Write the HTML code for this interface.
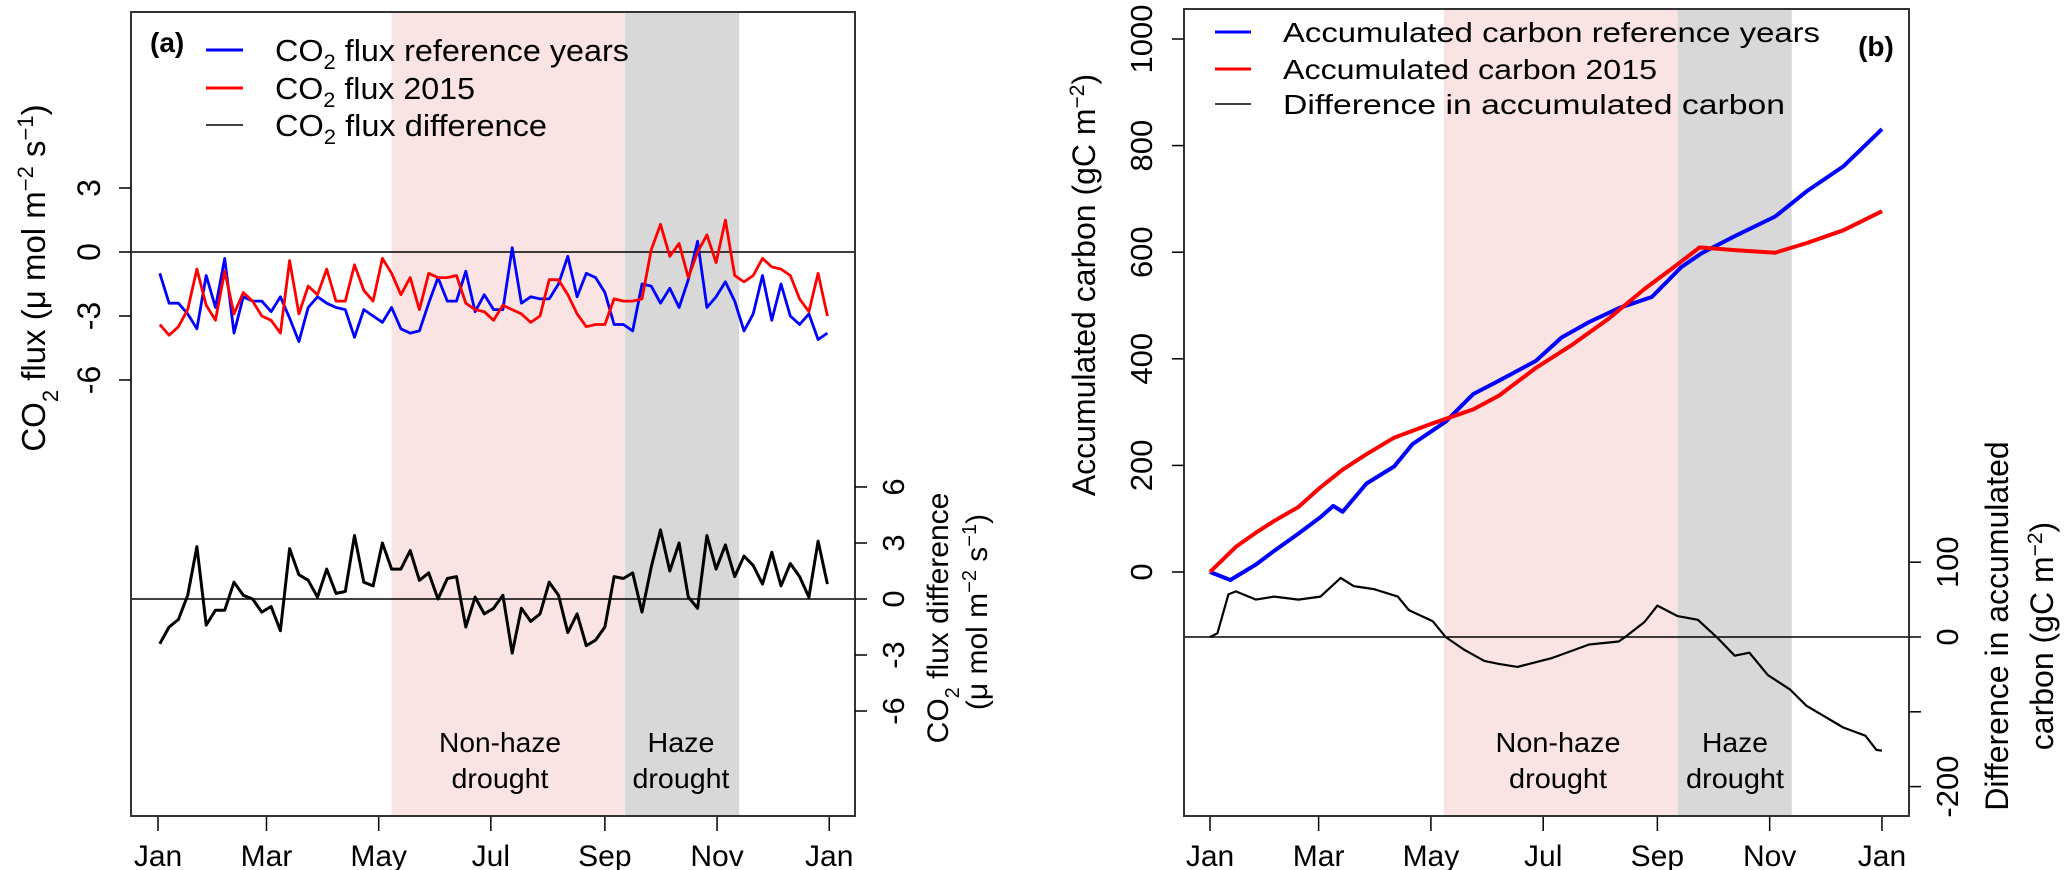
<!DOCTYPE html>
<html><head><meta charset="utf-8"><style>
html,body{margin:0;padding:0;background:#fff;}
svg{display:block;font-family:"Liberation Sans",Arial,sans-serif;}
</style></head><body>
<svg id="fig" width="2067" height="870" viewBox="0 0 2067 870" xmlns="http://www.w3.org/2000/svg"></svg>
<script>
// ---------- DATA ----------
const monthTickDays = [0, 59, 120, 181, 243, 304, 365];
const monthTickLabels = ["Jan","Mar","May","Jul","Sep","Nov","Jan"];
const nonHazePeriod = [127, 254];
const hazePeriod = [254, 316];
// Panel (a): 5-day CO2 flux
const fluxRef = [-1.0,-2.4,-2.4,-2.9,-3.6,-1.1,-2.6,-0.3,-3.8,-2.1,-2.3,-2.3,-2.8,-2.1,-3.1,-4.2,-2.6,-2.1,-2.4,-2.6,-2.7,-4.0,-2.7,-3.0,-3.3,-2.6,-3.6,-3.8,-3.7,-2.4,-1.2,-2.3,-2.3,-0.9,-2.8,-2.0,-2.7,
  -2.7,0.2,-2.4,-2.1,-2.2,-2.2,-1.5,-0.2,-2.1,-1.0,-1.2,-1.9,-3.4,-3.4,-3.7,-1.5,-1.6,-2.4,-1.7,-2.6,-1.3,0.5,-2.6,-2.1,-1.4,-2.3,-3.7,-2.9,-1.1,-3.2,-1.5,-3.0,-3.4,-2.9,-4.1,-3.8];
const flux2015 = [-3.4,-3.9,-3.5,-2.7,-0.8,-2.5,-3.2,-0.9,-2.9,-1.9,-2.3,-3.0,-3.2,-3.8,-0.4,-2.9,-1.6,-2.0,-0.8,-2.3,-2.3,-0.6,-1.8,-2.3,-0.3,-1.0,-2.0,-1.2,-2.7,-1.0,-1.2,-1.2,-1.1,-2.4,-2.7,-2.8,-3.2,
  -2.5,-2.7,-2.9,-3.3,-3.0,-1.3,-1.3,-2.0,-2.9,-3.5,-3.4,-3.4,-2.2,-2.3,-2.3,-2.2,0.1,1.3,-0.2,0.4,-1.2,0.0,0.8,-0.5,1.5,-1.1,-1.4,-1.1,-0.3,-0.7,-0.8,-1.1,-2.2,-2.8,-1.0,-3.0];
// Panel (b): accumulated carbon
const accRefDays = [0,11,25,35,48,60,67,72,85,100,110,128,143,157,177,191,206,222,240,256,267,285,307,324,344,365];
const accRefVals = [0,-15,14,40,72,103,124,113,166,198,240,282,334,359,396,440,469,495,516,572,598,630,667,714,761,831];
const acc2015Days = [0,14,25,35,48,60,72,85,100,121,143,157,177,197,216,236,252,266,285,307,324,344,365];
const acc2015Vals = [0,47,74,96,122,159,192,221,252,279,305,331,383,427,474,531,572,609,604,599,617,641,677];
const accDiffDays = [0,4,10,14,25,35,48,60,71,78,89,102,108,121,128,138,149,157,167,186,206,222,226,236,243,254,265,276,285,293,303,315,324,344,356,362,365];
const accDiffVals = [0,5,57,61,50,54,50,54,79,68,64,54,36,21,0,-17,-32,-36,-40,-28,-10,-6,1,20,42,28,23,-2,-25,-21,-51,-70,-92,-121,-132,-151,-152];
const aTopTicks = [3,0,-3,-6];
const aBotTicks = [6,3,0,-3,-6];
const bLeftTicks = [0,200,400,600,800,1000];
const bRightTicks = [100,0,-100,-200];
const bRightLabels = ["100","0","","-200"];

// ---------- SCALES ----------
const NS="http://www.w3.org/2000/svg";
const svg=document.getElementById('fig');
const xA = d => 158 + d*1.839;
const xB = d => 1210 + d*1.841;
const yAtop = v => 252 - v*21.33;
const yAbot = v => 599 - v*18.67;
const yBL = v => 572 - v*0.533;
const yBR = v => 637 - v*0.748;

function el(tag, attrs, parent){
  const e=document.createElementNS(NS,tag);
  for(const k in attrs) e.setAttribute(k,attrs[k]);
  (parent||svg).appendChild(e);
  return e;
}
function line(x1,y1,x2,y2,sw,col,parent){return el('line',{x1,y1,x2,y2,stroke:col||'#000','stroke-width':sw||1.5},parent);}
function text(x,y,str,size,opts,parent){
  const t=el('text',Object.assign({x,y,'font-size':size,'text-anchor':'middle',fill:'#000'},opts||{}),parent);
  t.textContent=str; return t;
}

function panel(name, L, R, T, B, xf, periods){
  const g=el('g',{});
  
  
  const p1=el('rect',{x:xf(periods[0][0]),y:T,width:xf(periods[0][1])-xf(periods[0][0]),height:B-T,fill:'#f9e3e3'},g);
  
  
  const p2=el('rect',{x:xf(periods[1][0]),y:T,width:xf(periods[1][1])-xf(periods[1][0]),height:B-T,fill:'#d8d8d8'},g);
  
  
  monthTickDays.forEach((d,i)=>{
    const tk=line(xf(d),B,xf(d),B+15,1.5,'#000',g);
    
    
    const lb=text(xf(d),866,monthTickLabels[i],30,{},g);
    
    
  });
  return g;
}
function poly(pts,col,sw,name,parent){
  const p=el('polyline',{points:pts.map(p=>p[0].toFixed(1)+','+p[1].toFixed(1)).join(' '),fill:'none',stroke:col,'stroke-width':sw,'stroke-linejoin':'round'},parent);
  
  
  return p;
}
function rotText(x,y,parts,size,name){
  const t=el('text',{x:0,y:0,'font-size':size,'text-anchor':'middle',transform:`translate(${x},${y}) rotate(-90)`});
  
  
  parts.forEach(p=>{
    const s=el('tspan',{},t);
    if(p[1]) s.setAttribute('baseline-shift',p[1]);
    if(p[2]) s.setAttribute('font-size',p[2]);
    s.textContent=p[0];
  });
  return t;
}

// ---------- PANEL A ----------
const gA=panel('panel-a',131,855,12,816,xA,[nonHazePeriod,hazePeriod]);
const nA=fluxRef.length;
const dayA=i=>1+i*(363/(nA-1));
line(131,yAtop(0),855,yAtop(0),1.5,'#000',gA);
line(131,yAbot(0),855,yAbot(0),1.5,'#000',gA);
poly(fluxRef.map((v,i)=>[xA(dayA(i)),yAtop(v)]),'#0000ff',2.8,'co2-flux-reference-line',gA);
poly(flux2015.map((v,i)=>[xA(dayA(i)),yAtop(v)]),'#ff0000',2.8,'co2-flux-2015-line',gA);
poly(flux2015.map((v,i)=>[xA(dayA(i)),yAbot(v-fluxRef[i])]),'#000',3,'co2-flux-difference-line',gA);
el('rect',{x:131,y:12,width:724,height:804,fill:'none',stroke:'#333','stroke-width':2},gA);
aTopTicks.forEach(v=>{
  line(119,yAtop(v),131,yAtop(v),1.5,'#000',gA);
  rotText(100,yAtop(v),[[String(v)]],32,'y-tick-label-left');
});
aBotTicks.forEach(v=>{
  line(855,yAbot(v),867,yAbot(v),1.5,'#000',gA);
  rotText(904,yAbot(v),[[String(v)]],31,'y-tick-label-right');
});
rotText(45,278,[["CO"],["2","sub","22"],[" flux ("],["\u03bc mol m"],["\u22122","super","22"],[" s"],["\u22121","super","22"],[")"]],33,'y-axis-title-left');
rotText(948,618,[["CO"],["2","sub","20"],[" flux difference"]],30,'y-axis-title-right');
rotText(987,612,[["(\u03bc mol m"],["\u22122","super","20"],[" s"],["\u22121","super","20"],[")"]],30,'y-axis-title-right-units');
text(150,52,"(a)",28,{'font-weight':'bold','text-anchor':'start'},gA);
[["#0000ff"," flux reference years",50,354],["#ff0000"," flux 2015",88,200],["#000"," flux difference",125,272]].forEach(L=>{
  line(206,L[2],243,L[2],L[0]=='#000'?1.5:3,L[0],gA);
  const t=el('text',{x:275,y:L[2]+11,'font-size':31,textLength:L[3],lengthAdjust:'spacingAndGlyphs'},gA);
  
  
  const a=el('tspan',{},t); a.textContent="CO";
  const b=el('tspan',{'font-size':21,dy:8},t); b.textContent="2";
  const c=el('tspan',{dy:-8},t); c.textContent=L[1];
});
text(500,752,"Non-haze",28,{textLength:122,lengthAdjust:'spacingAndGlyphs'},gA);
text(500,788,"drought",28,{textLength:97,lengthAdjust:'spacingAndGlyphs'},gA);
text(681,752,"Haze",28,{textLength:67,lengthAdjust:'spacingAndGlyphs'},gA);
text(681,788,"drought",28,{textLength:97,lengthAdjust:'spacingAndGlyphs'},gA);

// ---------- PANEL B ----------
const gB=panel('panel-b',1184,1909,9,816,xB,[nonHazePeriod,hazePeriod]);
line(1184,yBR(0),1909,yBR(0),1.5,'#000',gB);
poly(accRefDays.map((d,i)=>[xB(d),yBL(accRefVals[i])]),'#0000ff',4,'accumulated-reference-line',gB);
poly(acc2015Days.map((d,i)=>[xB(d),yBL(acc2015Vals[i])]),'#ff0000',4,'accumulated-2015-line',gB);
poly(accDiffDays.map((d,i)=>[xB(d),yBR(accDiffVals[i])]),'#000',2.2,'accumulated-difference-line',gB);
el('rect',{x:1184,y:9,width:725,height:807,fill:'none',stroke:'#333','stroke-width':2},gB);
bLeftTicks.forEach(v=>{
  line(1172,yBL(v),1184,yBL(v),1.5,'#000',gB);
  rotText(1152,yBL(v),[[String(v)]],31,'y-tick-label-left-b');
});
bRightTicks.forEach((v,i)=>{
  line(1909,yBR(v),1921,yBR(v),1.5,'#000',gB);
  rotText(1958,yBR(v),[[bRightLabels[i]]],31,'y-tick-label-right-b');
});
rotText(1095,285,[["Accumulated carbon (gC m"],["\u22122","super","21"],[")"]],32,'y-axis-title-left-b');
rotText(2008,626,[["Difference in accumulated"]],32,'y-axis-title-right-b');
rotText(2053,636,[["carbon (gC m"],["\u22122","super","21"],[")"]],32,'y-axis-title-right-b-2');
text(1876,56,"(b)",28,{'font-weight':'bold'},gB);
[["#0000ff","Accumulated carbon reference years",32,537],["#ff0000","Accumulated carbon 2015",69,374],["#000","Difference in accumulated carbon",104,502]].forEach(L=>{
  line(1215,L[2],1251,L[2],L[0]=='#000'?1.5:3,L[0],gB);
  const t=text(1283,L[2]+10,L[1],28,{'text-anchor':'start',textLength:L[3],lengthAdjust:'spacingAndGlyphs'},gB);
  
});
text(1558,752,"Non-haze",28,{textLength:125,lengthAdjust:'spacingAndGlyphs'},gB);
text(1558,788,"drought",28,{textLength:98,lengthAdjust:'spacingAndGlyphs'},gB);
text(1735,752,"Haze",28,{textLength:66,lengthAdjust:'spacingAndGlyphs'},gB);
text(1735,788,"drought",28,{textLength:98,lengthAdjust:'spacingAndGlyphs'},gB);
</script>
</body></html>
